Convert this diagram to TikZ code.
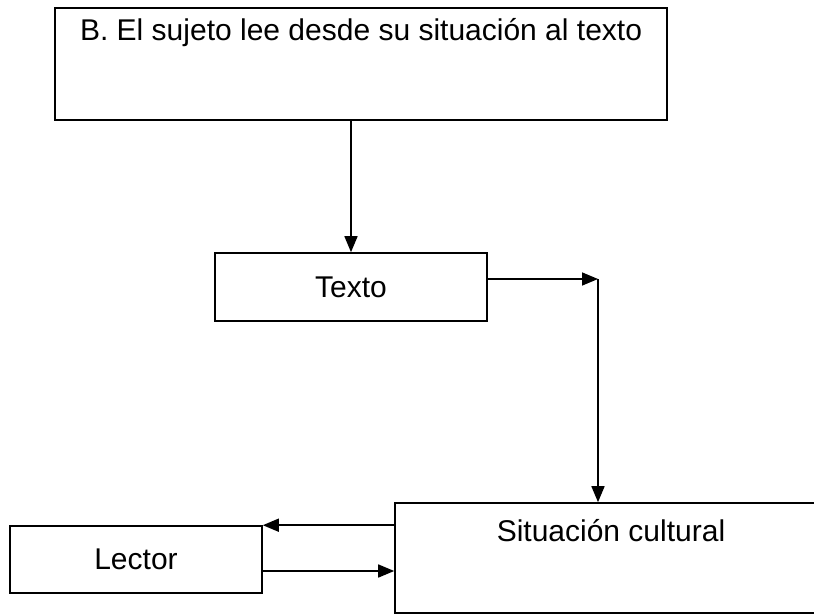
\documentclass[tikz,border=0pt]{standalone}
\usepackage{fontspec}
\setmainfont{Liberation Sans}
\usetikzlibrary{arrows.meta}
\usetikzlibrary{positioning}

\tikzset{
    caja/.style={draw, line width=0.8pt, inner sep=0pt},
    flecha/.style={line width=0.8pt, -{Triangle[length=8pt,width=6.5pt]}},
    letra/.style={font=\fontsize{15}{18}\selectfont}
}

\begin{document}
\begin{tikzpicture}[x=0.5pt,y=-0.5pt]
        % page frame (814 x 615 px), the last box runs off it
        \useasboundingbox (0,0) rectangle (814,615);

        % Title box with the text at its top left
        \node[caja, minimum width=306pt, minimum height=56pt] (titulo) at (361,64) {};
        \node[letra, anchor=west] at (73,33) {B. El sujeto lee desde su situación al texto};

        % Middle box
        \node[caja, letra, minimum width=136pt, minimum height=34pt] (texto) at (351,287) {Texto};

        % Bottom boxes
        \node[caja, minimum width=260pt, minimum height=55pt] (situacion) at (655,558) {};
        \node[letra] at (611,531) {Situación cultural};
        \node[caja, letra, minimum width=126pt, minimum height=33.5pt] (lector) at (136,559.5) {Lector};

        % Connectors
        \coordinate (esquina) at (598,279);
        \coordinate (entrada) at (262,571);
        \draw[flecha] (titulo.south -| texto.north) -- (texto.north);
        \draw[flecha] (texto.east |- esquina) -- (esquina);
        \draw[flecha] (esquina) -- (esquina |- situacion.north);
        \draw[flecha] (situacion.west |- lector.north east) -- (lector.north east);
        \draw[flecha] (entrada) -- (situacion.west |- entrada);
\end{tikzpicture}
\end{document}
